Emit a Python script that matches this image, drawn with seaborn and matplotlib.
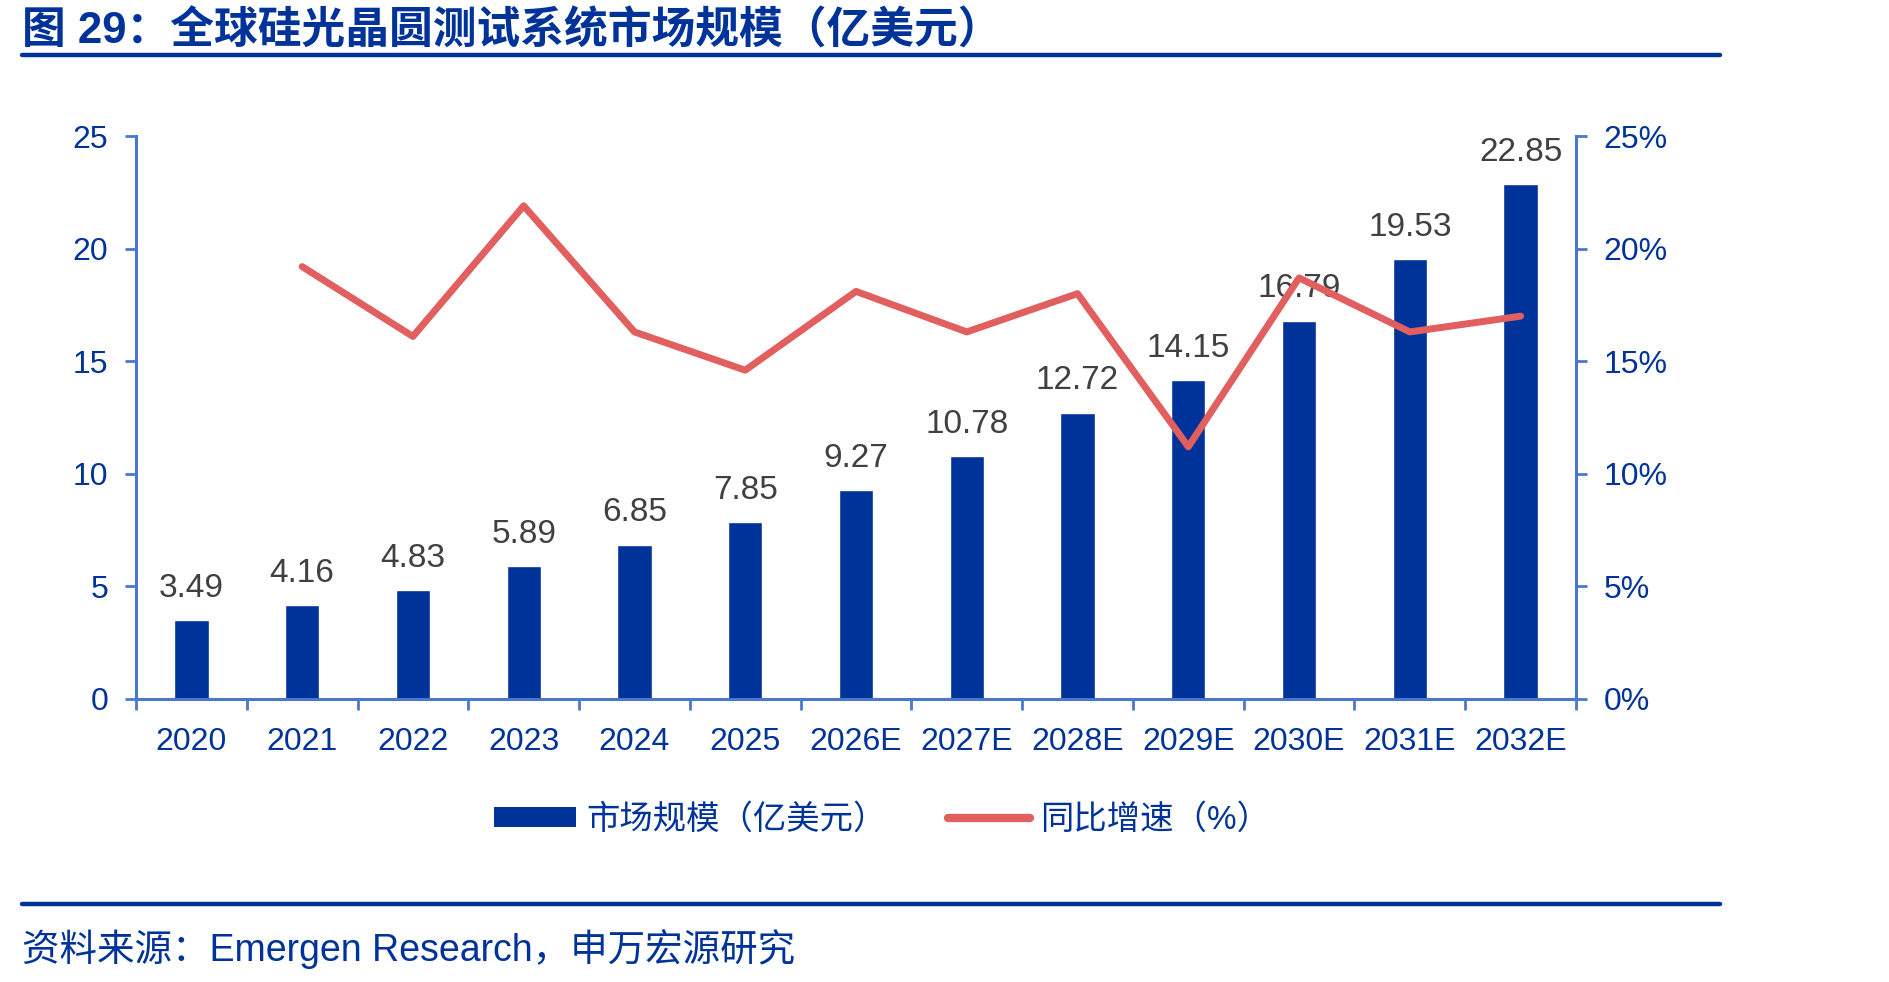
import numpy as np
import pandas as pd
import matplotlib
matplotlib.use('Agg')
import matplotlib.pyplot as plt
from matplotlib.patches import Patch
from matplotlib.lines import Line2D
import seaborn as sns

# Data
years = ['2020', '2021', '2022', '2023', '2024', '2025', '2026E',
         '2027E', '2028E', '2029E', '2030E', '2031E', '2032E']
market_size = [3.49, 4.16, 4.83, 5.89, 6.85, 7.85, 9.27,
               10.78, 12.72, 14.15, 16.79, 19.53, 22.85]
# YoY growth (%), no value for 2020
growth_years = years[1:]
growth = [19.2, 16.1, 21.9, 16.3, 14.6, 18.1, 16.3, 18.0, 11.2, 18.7, 16.3, 17.0]

y_ticks = [0, 5, 10, 15, 20, 25]
y2_ticks = [0, 5, 10, 15, 20, 25]

title = '图 29：全球硅光晶圆测试系统市场规模（亿美元）'
source = '资料来源：Emergen Research，申万宏源研究'
bar_label = '市场规模（亿美元）'
line_label = '同比增速（%）'

# Colors
navy = '#003399'
red = '#E15F5F'
axis_blue = '#4A78CF'
label_grey = '#404040'

sns.set_style('white')
plt.rcParams['font.family'] = ['Liberation Sans', 'Noto Sans CJK SC', 'DejaVu Sans']

df = pd.DataFrame({'year': years, 'size': market_size})
df_g = pd.DataFrame({'pos': [years.index(y) for y in growth_years], 'growth': growth})

fig = plt.figure(figsize=(18.89, 9.82), dpi=100)
ax = fig.add_axes([0.072, 0.2882, 0.7623, 0.5733])

sns.barplot(data=df, x='year', y='size', color=navy, width=0.31,
            saturation=1, ax=ax, zorder=2)
ax.set_xlim(-0.5, len(years) - 0.5)
ax.set_ylim(0, 25)
ax.set_yticks(y_ticks)
ax.set_xlabel('')
ax.set_ylabel('')

# data labels
for i, v in enumerate(market_size):
    ax.annotate(f'{v:.2f}', (i, v), xytext=(0, 17), textcoords='offset points',
                ha='center', va='baseline', fontsize=24, color=label_grey)

ax2 = ax.twinx()
sns.lineplot(data=df_g, x='pos', y='growth', color=red, linewidth=5,
             ax=ax2, zorder=3)
ax2.set_ylim(0, 25)
ax2.set_yticks(y2_ticks)
ax2.set_yticklabels([f'{t}%' for t in y2_ticks])
ax2.set_xlabel('')
ax2.set_ylabel('')
ax2.set_xlim(-0.5, len(years) - 0.5)

# spines and ticks
for a in (ax, ax2):
    for s in a.spines.values():
        s.set_visible(False)
ax.spines['left'].set_visible(True)
ax.spines['bottom'].set_visible(True)
ax2.spines['right'].set_visible(True)
for s in (ax.spines['left'], ax.spines['bottom'], ax2.spines['right']):
    s.set_color(axis_blue)
    s.set_linewidth(2.2)

ax.tick_params(axis='y', which='both', direction='out', length=8, width=2,
               color=axis_blue, labelcolor=navy, labelsize=23, pad=12, left=True)
ax2.tick_params(axis='y', direction='out', length=8, width=2,
                color=axis_blue, labelcolor=navy, labelsize=23, pad=12, right=True)
ax.set_xticks(range(len(years)))
ax.set_xticklabels(years)
ax.set_xticks(np.arange(-0.5, len(years), 1.0), minor=True)
ax.tick_params(axis='x', which='major', length=0, labelcolor=navy,
               labelsize=23, pad=20)
ax.tick_params(axis='x', which='minor', direction='out', length=8, width=2,
               color=axis_blue, bottom=True)
ax.grid(False)
ax2.grid(False)

# legend
handles = [Patch(facecolor=navy, edgecolor='none', label=bar_label),
           Line2D([0], [0], color=red, linewidth=6, solid_capstyle='round',
                  label=line_label)]
fig.legend(handles=handles, loc='center', bbox_to_anchor=(0.467, 0.165),
           ncol=2, frameon=False, fontsize=24, labelcolor=navy,
           handlelength=2.45, handleheight=0.55, handletextpad=0.3,
           columnspacing=1.85)

# title, rules and source
fig.text(0.0116, 0.968, title, fontsize=31.5, fontweight='bold', color=navy,
         ha='left', va='center')
fig.add_artist(Line2D([0.0116, 0.9106], [0.944, 0.944], color=navy,
                      linewidth=3.2, transform=fig.transFigure))
fig.add_artist(Line2D([0.0116, 0.9106], [0.0795, 0.0795], color=navy,
                      linewidth=3.2, transform=fig.transFigure))
fig.text(0.0116, 0.0336, source, fontsize=27, color=navy,
         ha='left', va='center')

fig.savefig('out.png', dpi=100)
